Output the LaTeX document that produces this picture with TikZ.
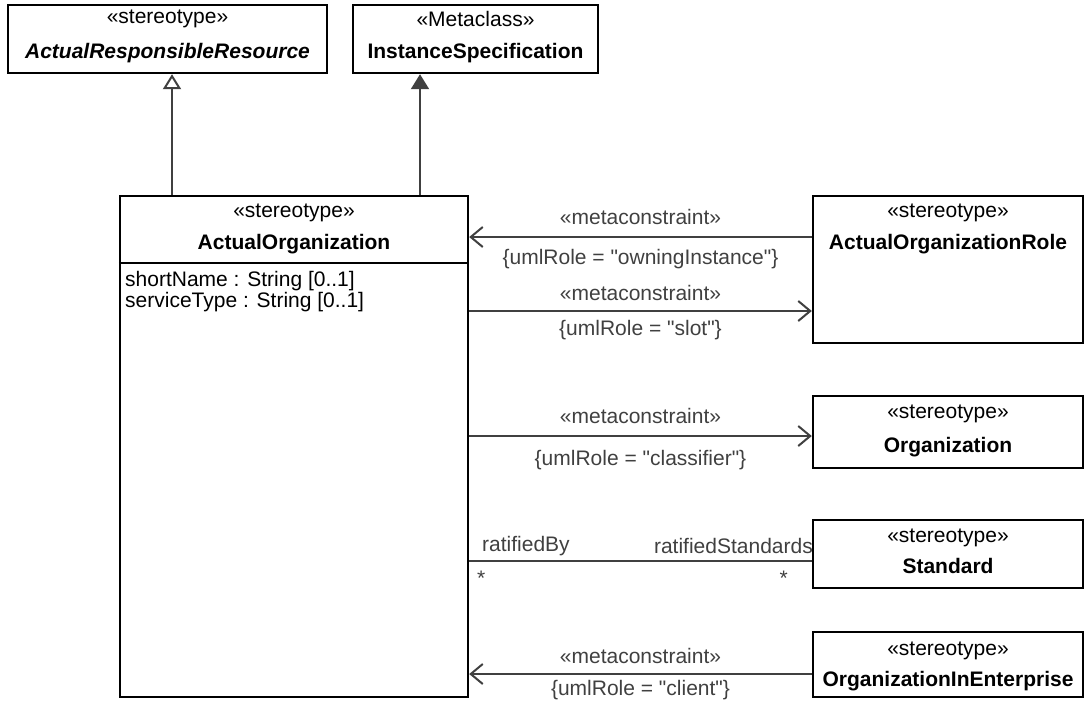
\documentclass[tikz,border=0pt]{standalone}
\usepackage{fontspec}
\setmainfont{Liberation Sans}[Ligatures=TeXOff]
\usetikzlibrary{arrows.meta}
\definecolor{linec}{RGB}{64,64,64}
\tikzset{
  cls/.style={rectangle,draw=black,line width=2.4pt,inner sep=0pt},
  ster/.style={font=\fontsize{21}{24}\selectfont,inner sep=0pt},
  cname/.style={font=\fontsize{21}{24}\selectfont\bfseries,inner sep=0pt},
  attr/.style={font=\fontsize{21}{24}\selectfont,inner sep=0pt,anchor=west},
  rel/.style={font=\fontsize{21}{24}\selectfont,inner sep=0pt},
  % connectors
  dep/.style={-{Straight Barb[length=12pt,width=20pt]},line width=2pt,linec},
  gen/.style={-{Triangle[open,length=15pt,width=18pt,fill=white]},line width=2pt,linec},
  ext/.style={-{Triangle[length=15pt,width=18pt]},line width=2pt,linec},
  assoc/.style={line width=2pt,linec},
}
\begin{document}
\begin{tikzpicture}[x=1pt,y=-1pt]
  \useasboundingbox (0,0) rectangle (1085,702);
  % ---- top: the two parents ----
  \node[cls,minimum width=319pt,minimum height=68pt] (arr) at (167.5,39) {};
  \node[ster] (arrS) at (167.5,19) {«stereotype»};
  \node[cname,font=\fontsize{21}{24}\selectfont\bfseries\itshape] (arrN) at (167.5,53) {ActualResponsibleResource};
  \node[cls,minimum width=245pt,minimum height=68pt] (is) at (475.5,39) {};
  \node[ster] (isS) at (475.5,19) {«Metaclass»};
  \node[cname] (isN) at (475.5,53) {InstanceSpecification};
  % ---- left: the stereotype itself ----
  \node[cls,minimum width=348pt,minimum height=501pt] (ao) at (294,446.5) {};
  \node[ster] (aoS) at (294,213) {«stereotype»};
  \node[cname] (aoN) at (294,244) {ActualOrganization};
  \draw[line width=2.4pt] ([yshift=-68pt]ao.north west) -- ([yshift=-68pt]ao.north east);
  \node[attr] (at1) at (125,281) {shortName : String [0..1]};
  \node[attr] (at2) at (125,302) {serviceType : String [0..1]};
  \draw[gen] ([xshift=-122pt]ao.north) -- ([xshift=-122pt]ao.north |- arr.south);
  \draw[ext] ([xshift=126pt]ao.north) -- ([xshift=126pt]ao.north |- is.south);
  % ---- right column ----
  \node[cls,minimum width=270pt,minimum height=147pt] (aor) at (948,269.5) {};
  \node[ster] (aorS) at (948,213) {«stereotype»};
  \node[cname] (aorN) at (948,244) {ActualOrganizationRole};
  \node[cls,minimum width=270pt,minimum height=72pt] (org) at (948,432) {};
  \node[ster] (orgS) at (948,414) {«stereotype»};
  \node[cname] (orgN) at (948,447) {Organization};
  \node[cls,minimum width=270pt,minimum height=68pt] (std) at (948,554) {};
  \node[ster] (stdS) at (948,538) {«stereotype»};
  \node[cname] (stdN) at (948,566) {Standard};
  \node[cls,minimum width=270pt,minimum height=65pt] (oie) at (948,664.5) {};
  \node[ster] (oieS) at (948,651) {«stereotype»};
  \node[cname] (oieN) at (948,681) {OrganizationInEnterprise};
  % ---- metaconstraints ----
  \draw[dep] ([yshift=32.5pt]aor.west) -- ([yshift=32.5pt]aor.west -| ao.east)
    node[rel,midway,yshift=20pt] {«metaconstraint»}
    node[rel,midway,yshift=-22pt] {\{umlRole = "owningInstance"\}};
  \draw[dep] ([yshift=-41.5pt]aor.west -| ao.east) -- ([yshift=-41.5pt]aor.west)
    node[rel,midway,yshift=18pt] {«metaconstraint»}
    node[rel,midway,yshift=-19pt] {\{umlRole = "slot"\}};
  \draw[dep] ([yshift=-4pt]org.west -| ao.east) -- ([yshift=-4pt]org.west)
    node[rel,midway,yshift=20pt] {«metaconstraint»}
    node[rel,midway,yshift=-24pt] {\{umlRole = "classifier"\}};
  \draw[assoc] ([yshift=-7pt]std.west -| ao.east) -- ([yshift=-7pt]std.west)
    node[rel,pos=0,anchor=west,xshift=12pt,yshift=15pt] {ratifiedBy}
    node[rel,pos=1,anchor=east,xshift=2pt,yshift=15pt] {ratifiedStandards}
    node[rel,pos=0,xshift=12pt,yshift=-17pt] {*}
    node[rel,pos=1,xshift=-28pt,yshift=-17pt] {*};
  \draw[dep] ([yshift=-9.5pt]oie.west) -- ([yshift=-9.5pt]oie.west -| ao.east)
    node[rel,midway,yshift=18pt] {«metaconstraint»}
    node[rel,midway,yshift=-16pt] {\{umlRole = "client"\}};
\end{tikzpicture}
\end{document}
